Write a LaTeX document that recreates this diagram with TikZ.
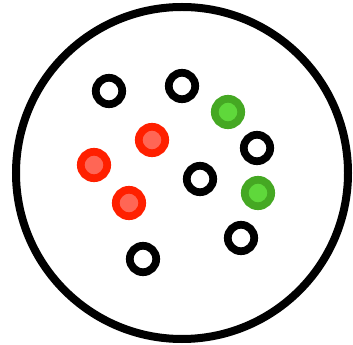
\documentclass[tikz,border=0pt]{standalone}
\usepackage{tikz}
\definecolor{redring}{HTML}{FF2000}
\definecolor{redcore}{HTML}{FF6655}
\definecolor{greenring}{HTML}{45A823}
\definecolor{greencore}{HTML}{5FD83B}
\tikzset{
  plain/.style={draw=black,fill=white,line width=5.8pt},
  hot/.style={draw=redring,fill=redcore,line width=5.8pt},
  cool/.style={draw=greenring,fill=greencore,line width=5.8pt}
}
\begin{document}
\begin{tikzpicture}[x=0.75pt,y=-0.75pt]
\useasboundingbox (0,0) rectangle (353,345);
\draw[line width=6pt] (182,173) circle (124.5pt);
% open dots
\foreach \px/\py in {109/91, 182/86, 257/148, 200/179, 241/238, 143/259}
  \path[plain] (\px,\py) circle (9.9pt);
% red dots
\foreach \px/\py in {152/140, 94/165, 129/203}
  \path[hot] (\px,\py) circle (9.9pt);
% green dots
\foreach \px/\py in {228/112, 258/193}
  \path[cool] (\px,\py) circle (9.9pt);
\end{tikzpicture}
\end{document}
